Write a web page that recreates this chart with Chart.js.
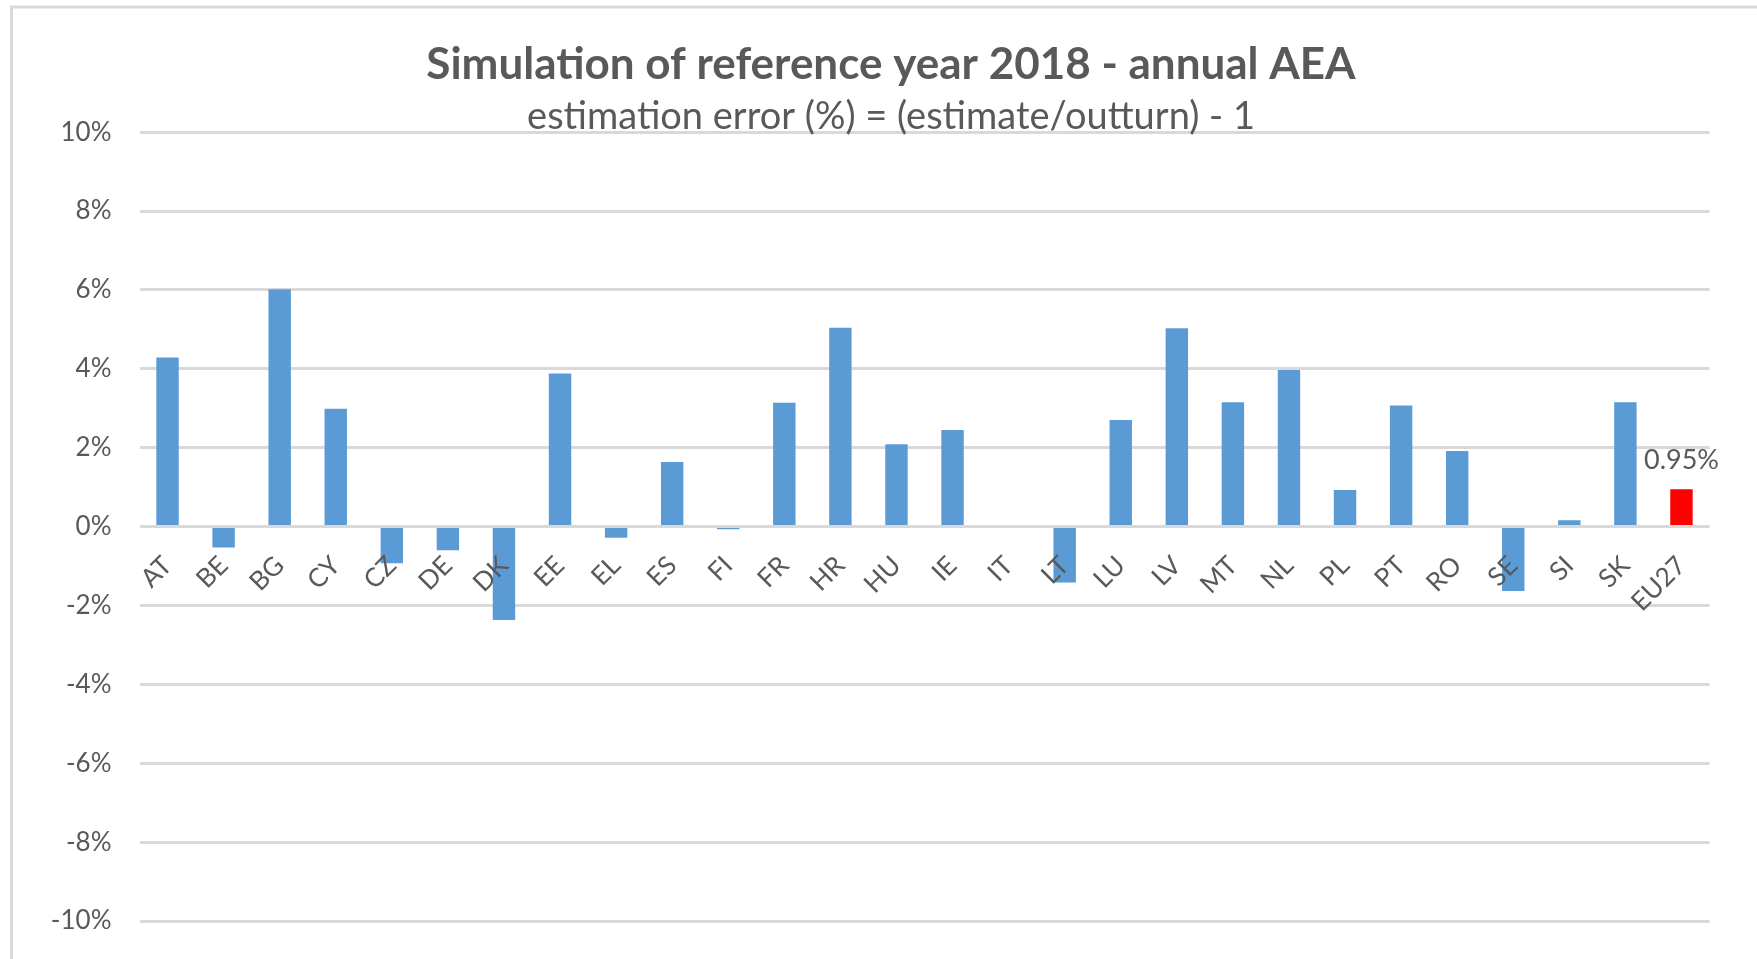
<!DOCTYPE html>
<html>
<head>
<meta charset="utf-8">
<script src="https://cdn.jsdelivr.net/npm/chart.js@4.4.1/dist/chart.umd.min.js"></script>
<style>
  html, body { margin: 0; padding: 0; background: #ffffff; }
  #wrap { position: relative; width: 1757px; height: 959px; }
</style>
</head>
<body>
<div id="wrap"><canvas id="chart"></canvas></div>
<script>
// ---- data ----
const categories = ['AT','BE','BG','CY','CZ','DE','DK','EE','EL','ES','FI','FR','HR','HU','IE','IT','LT','LU','LV','MT','NL','PL','PT','RO','SE','SI','SK','EU27'];
const errorValues = [4.29,-0.53,6.02,2.99,-0.93,-0.60,-2.37,3.88,-0.28,1.64,-0.07,3.14,5.04,2.09,2.45,0,-1.42,2.70,5.03,3.15,3.97,0.93,3.07,1.92,-1.63,0.16,3.15,0.95];
const highlightCategory = 'EU27';
const yMin = -10;
const yMax = 10;
const yStep = 2;
const titleText = 'Simulation of reference year 2018 - annual AEA';
const subtitleText = 'estimation error (%) = (estimate/outturn) - 1';

// ---- styles ----
const textColor = '#595959';
const gridColor = '#d9d9d9';
const barColor = '#5b9bd5';
const highlightColor = '#ff0000';

const barColors = categories.map(c => c === highlightCategory ? highlightColor : barColor);

const framePlugin = {
  id: 'frame',
  beforeDraw(chart) {
    const ctx = chart.ctx;
    ctx.save();
    ctx.fillStyle = '#ffffff';
    ctx.fillRect(0, 0, chart.width, chart.height);
    ctx.strokeStyle = gridColor;
    ctx.lineWidth = 3;
    ctx.strokeRect(11.5, 7, chart.width + 100, chart.height + 100);
    ctx.restore();
  }
};

const highlightLabelPlugin = {
  id: 'highlightLabel',
  afterDatasetsDraw(chart) {
    const idx = categories.indexOf(highlightCategory);
    const bar = chart.getDatasetMeta(0).data[idx];
    if (!bar) return;
    const ctx = chart.ctx;
    ctx.save();
    ctx.font = '27px Lato';
    ctx.fillStyle = textColor;
    ctx.textAlign = 'center';
    ctx.textBaseline = 'alphabetic';
    ctx.fillText(errorValues[idx].toFixed(2) + '%', bar.x, bar.y - 20);
    ctx.restore();
  }
};

new Chart(document.getElementById('chart'), {
  type: 'bar',
  data: {
    labels: categories,
    datasets: [{
      data: errorValues,
      backgroundColor: barColors,
      borderWidth: 0,
      barPercentage: 0.4,
      categoryPercentage: 1.0
    }]
  },
  options: {
    responsive: true,
    maintainAspectRatio: false,
    animation: false,
    layout: { padding: { left: 45, right: 20, top: 0, bottom: 38 } },
    plugins: {
      legend: { display: false },
      tooltip: { enabled: false },
      title: {
        display: true,
        text: titleText,
        color: textColor,
        font: { family: 'Lato', size: 44, weight: 'bold', lineHeight: 1.2 },
        padding: { top: 38, bottom: 11 }
      },
      subtitle: {
        display: true,
        text: subtitleText,
        color: textColor,
        font: { family: 'Lato', size: 38, weight: 'normal', lineHeight: 0.8 },
        padding: { top: 0, bottom: 0 }
      }
    },
    scales: {
      x: {
        type: 'category',
        position: { y: 0 },
        afterFit(scale) { scale.paddingTop = 0; scale.paddingBottom = 0; },
        grid: { display: false, drawTicks: false },
        border: { display: false },
        ticks: {
          z: 1,
          autoSkip: false,
          maxRotation: 45,
          minRotation: 45,
          padding: 29,
          color: textColor,
          font: { family: 'Lato', size: 26, lineHeight: 0.6 }
        }
      },
      y: {
        min: yMin,
        max: yMax,
        afterFit(scale) { scale.width = 94.5; scale.paddingTop = 0; scale.paddingBottom = 0; },
        grid: { color: gridColor, lineWidth: 3, drawTicks: false },
        border: { display: false },
        ticks: {
          stepSize: yStep,
          padding: 28,
          color: textColor,
          font: { family: 'Lato', size: 26 },
          callback: v => v + '%'
        }
      },
      yRight: {
        type: 'linear',
        position: 'right',
        afterFit(scale) { scale.width = 27.5; scale.paddingTop = 0; scale.paddingBottom = 0; },
        grid: { display: false, drawTicks: false },
        border: { display: false },
        ticks: { display: false }
      }
    }
  },
  plugins: [framePlugin, highlightLabelPlugin]
});
</script>
</body>
</html>
